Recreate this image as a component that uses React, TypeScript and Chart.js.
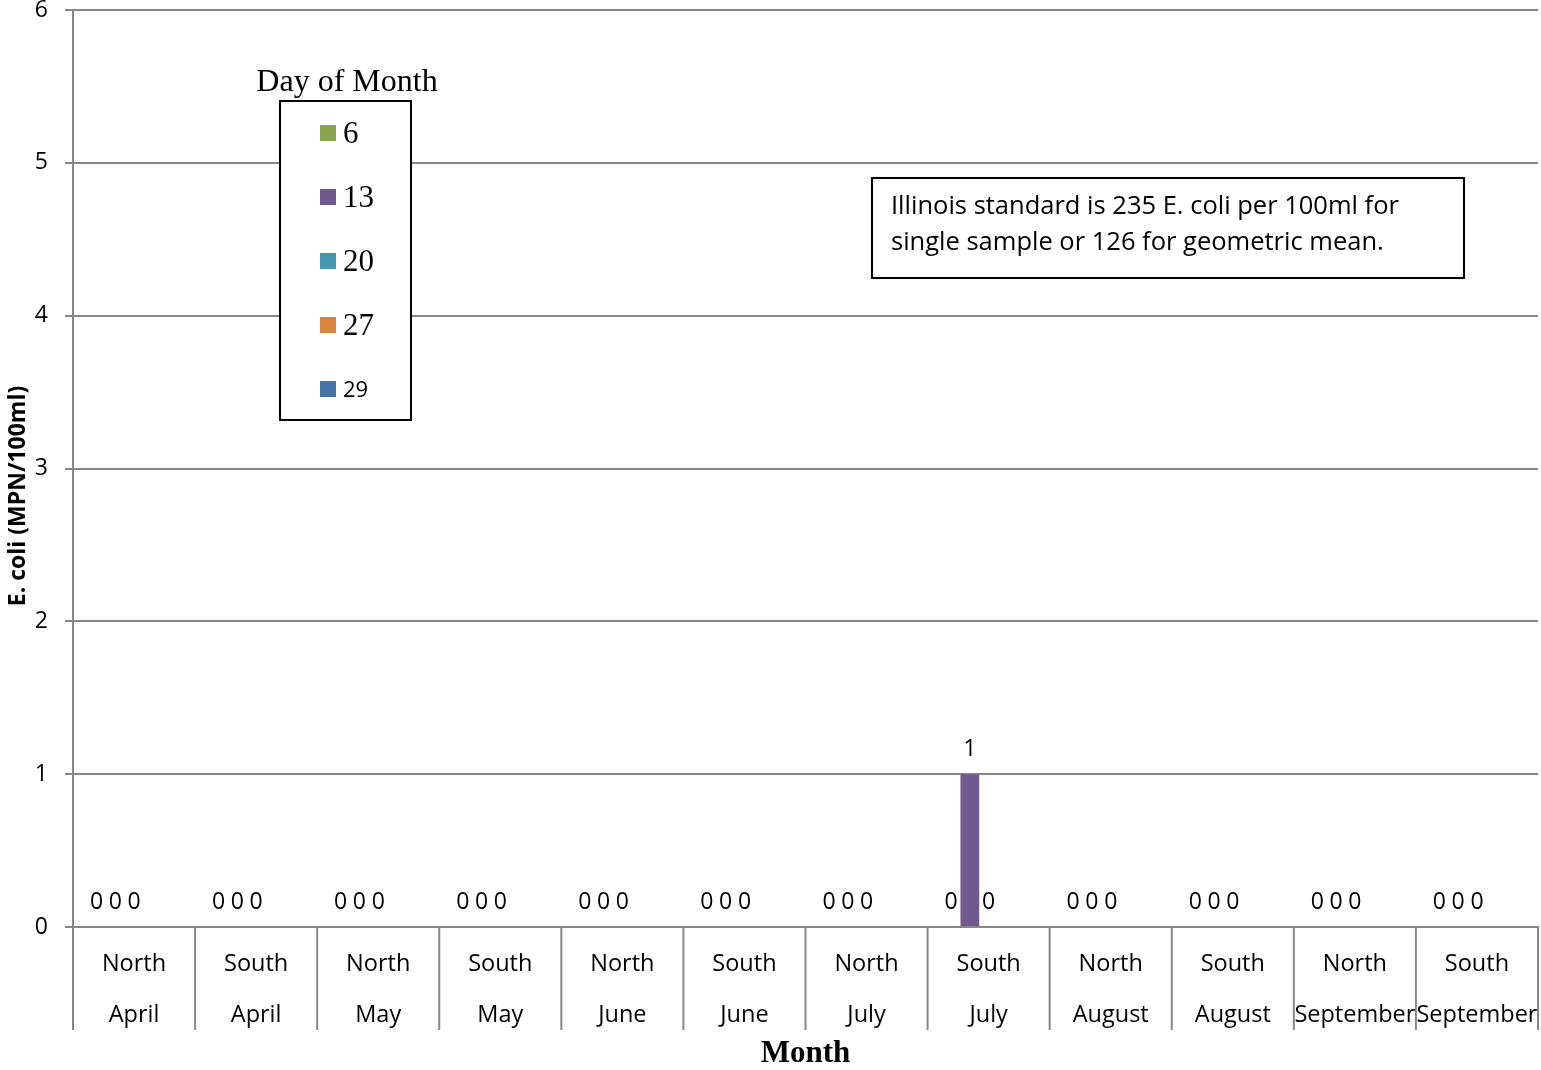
import React, { useEffect, useRef } from "react";
import { Chart, registerables } from "chart.js";

Chart.register(...registerables);

const sites = ["North", "South", "North", "South", "North", "South", "North", "South", "North", "South", "North", "South"];
const months = ["April", "April", "May", "May", "June", "June", "July", "July", "August", "August", "September", "September"];
const dayLabels = ["6", "13", "20", "27", "29"];
const dayColors = ["#89A54E", "#71588F", "#4198AF", "#DB843D", "#4572A7"];
const day6 = [0, 0, 0, 0, 0, 0, 0, 0, 0, 0, 0, 0];
const day13 = [0, 0, 0, 0, 0, 0, 0, 1, 0, 0, 0, 0];
const day20 = [0, 0, 0, 0, 0, 0, 0, 0, 0, 0, 0, 0];
const day27 = [null, null, null, null, null, null, null, null, null, null, null, null];
const day29 = [null, null, null, null, null, null, null, null, null, null, null, null];
const yTicks = [0, 1, 2, 3, 4, 5, 6];
const legendTitle = "Day of Month";
const yTitle = "E. coli (MPN/100ml)";
const xTitle = "Month";
const noteLines = ["Illinois standard is 235 E. coli per 100ml for", "single sample or 126 for geometric mean."];

const SANS = "'Open Sans', 'Noto Sans', sans-serif";
const SERIF = "'Liberation Serif', 'DejaVu Serif', serif";
const GRID = "#878787";

const extrasPlugin = {
  id: "extras",
  afterDatasetsDraw(chart: any) {
    const ctx = chart.ctx;
    const area = chart.chartArea;
    const xs = chart.scales.x;
    const n = xs.ticks.length;
    ctx.save();
    ctx.strokeStyle = GRID;
    ctx.lineWidth = 2;
    for (let i = 0; i <= n; i++) {
      let x;
      if (i === 0) x = xs.left;
      else if (i === n) x = xs.right;
      else x = (xs.getPixelForValue(i - 1) + xs.getPixelForValue(i)) / 2;
      ctx.beginPath();
      ctx.moveTo(x, area.bottom);
      ctx.lineTo(x, area.bottom + 103);
      ctx.stroke();
    }
    ctx.restore();

    ctx.save();
    ctx.font = `23px ${SANS}`;
    ctx.fillStyle = "#000";
    ctx.textAlign = "center";
    ctx.textBaseline = "middle";
    chart.data.datasets.forEach((ds: any, di: number) => {
      const meta = chart.getDatasetMeta(di);
      meta.data.forEach((el: any, i: number) => {
        const v = ds.data[i];
        if (v === null || v === undefined) return;
        ctx.fillText(String(v), el.x, el.y - 25);
      });
    });
    ctx.restore();
  },
  afterDraw(chart: any) {
    const ctx = chart.ctx;
    const area = chart.chartArea;
    ctx.save();
    ctx.translate(18, 496);
    ctx.rotate(-Math.PI / 2);
    ctx.font = `bold 23px ${SANS}`;
    ctx.fillStyle = "#000";
    ctx.textAlign = "center";
    ctx.textBaseline = "middle";
    ctx.fillText(yTitle, 0, 0);
    ctx.restore();

    ctx.save();
    ctx.font = `bold 31px ${SERIF}`;
    ctx.fillStyle = "#000";
    ctx.textAlign = "center";
    ctx.textBaseline = "middle";
    ctx.fillText(xTitle, (area.left + area.right) / 2, 1054);
    ctx.restore();

    ctx.save();
    ctx.fillStyle = "#fff";
    ctx.fillRect(280, 101, 131, 319);
    ctx.strokeStyle = "#000";
    ctx.lineWidth = 2;
    ctx.strokeRect(280, 101, 131, 319);
    ctx.fillStyle = "#000";
    ctx.font = `32px ${SERIF}`;
    ctx.textAlign = "center";
    ctx.textBaseline = "middle";
    ctx.fillText(legendTitle, 347, 83);
    chart.data.datasets.forEach((ds: any, i: number) => {
      const cy = 133 + 64 * i;
      ctx.fillStyle = ds.backgroundColor;
      ctx.fillRect(320, cy - 8, 16, 16);
      ctx.fillStyle = "#000";
      ctx.textAlign = "left";
      ctx.font = i === chart.data.datasets.length - 1 ? `22px ${SANS}` : `31px ${SERIF}`;
      ctx.fillText(ds.label, 343, cy + 2);
    });
    ctx.restore();

    ctx.save();
    ctx.fillStyle = "#fff";
    ctx.fillRect(872, 178, 592, 100);
    ctx.strokeStyle = "#000";
    ctx.lineWidth = 2;
    ctx.strokeRect(872, 178, 592, 100);
    ctx.fillStyle = "#000";
    ctx.font = `25.5px ${SANS}`;
    ctx.textAlign = "left";
    ctx.textBaseline = "middle";
    noteLines.forEach((t, i) => ctx.fillText(t, 891, 207 + 36 * i));
    ctx.restore();
  },
};

export default function App() {
  const ref = useRef<HTMLCanvasElement | null>(null);
  useEffect(() => {
    if (!ref.current) return;
    const series = [day6, day13, day20, day27, day29];
    const chart = new Chart(ref.current, {
      type: "bar",
      data: {
        labels: sites.map((s, i) => [s, months[i]]),
        datasets: series.map((d, i) => ({
          label: dayLabels[i],
          data: d,
          backgroundColor: dayColors[i],
          borderWidth: 0,
          categoryPercentage: 5 / 6.5,
          barPercentage: 1,
        })),
      },
      options: {
        animation: false,
        responsive: false,
        devicePixelRatio: 1,
        layout: { autoPadding: false, padding: { top: 10, right: 3, left: 0, bottom: 0 } },
        plugins: { legend: { display: false }, title: { display: false }, tooltip: { enabled: false } },
        scales: {
          x: {
            grid: { display: false, drawTicks: false },
            border: { display: true, color: GRID, width: 2 },
            ticks: {
              color: "#000",
              padding: 11.5,
              maxRotation: 0,
              autoSkip: false,
              font: { family: SANS, size: 23.5, lineHeight: 51 / 23.5 },
            },
            afterFit: (s: any) => {
              s.height = 143;
              s.paddingLeft = 0;
              s.paddingRight = 0;
              s.paddingTop = 0;
              s.paddingBottom = 0;
            },
          },
          y: {
            min: 0,
            max: 6,
            afterBuildTicks: (s: any) => {
              s.ticks = yTicks.map((v) => ({ value: v }));
            },
            grid: { color: GRID, lineWidth: 2, tickLength: 8, drawTicks: true },
            border: { display: true, color: GRID, width: 2 },
            ticks: {
              color: "#000",
              padding: 17,
              font: { family: SANS, size: 23, lineHeight: 0.8 },
            },
            afterFit: (s: any) => {
              s.width = 73;
              s.paddingTop = 0;
              s.paddingBottom = 0;
              s.paddingLeft = 0;
              s.paddingRight = 0;
            },
          },
        },
      },
      plugins: [extrasPlugin],
    });
    return () => chart.destroy();
  }, []);
  return (
    <div style={{ position: "absolute", left: 0, top: 0, width: 1541, height: 1070, background: "#fff" }}>
      <canvas ref={ref} width={1541} height={1070} style={{ display: "block" }} />
    </div>
  );
}
